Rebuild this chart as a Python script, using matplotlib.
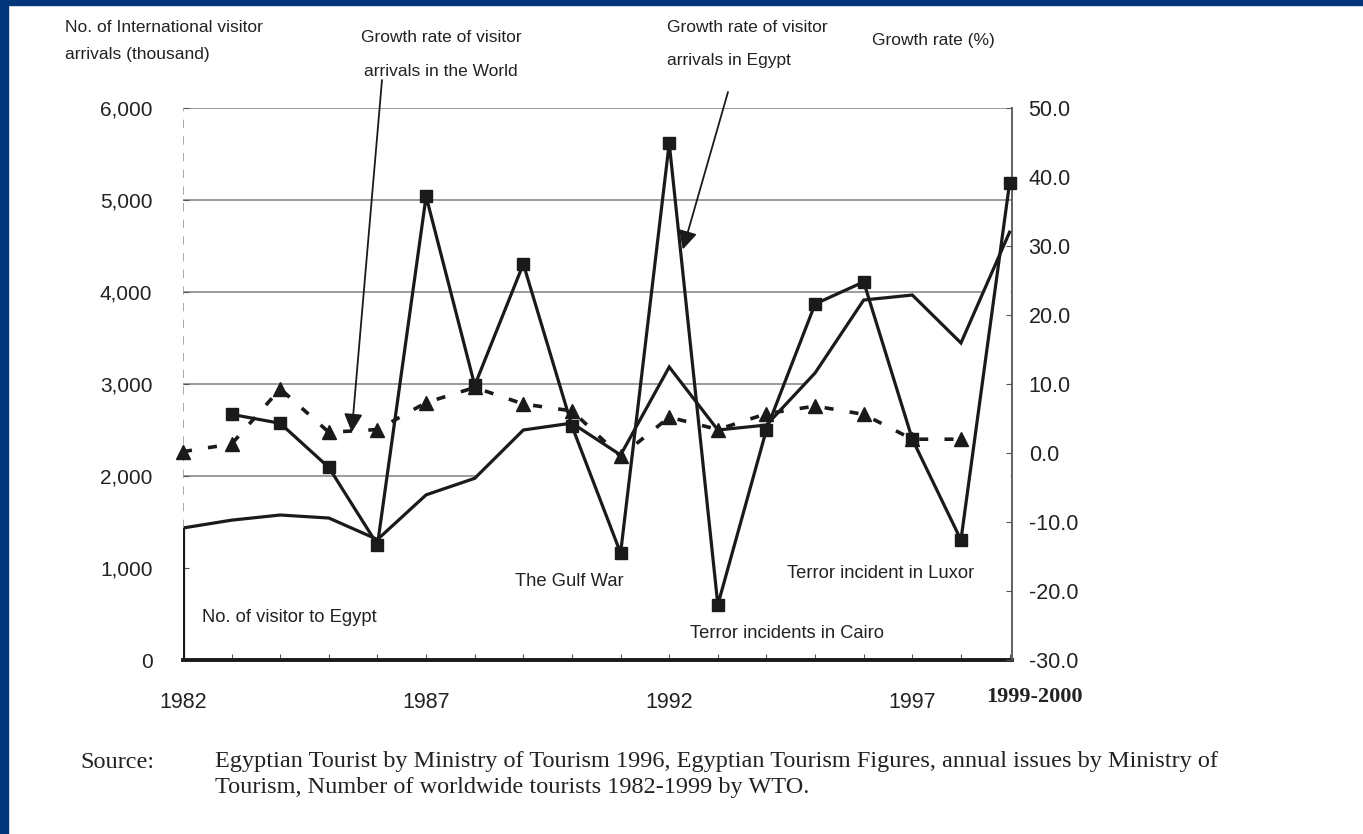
import matplotlib
matplotlib.use("Agg")
import matplotlib.pyplot as plt
from matplotlib.patches import Rectangle

plt.rcParams['font.family'] = ['Liberation Sans', 'DejaVu Sans']
plt.rcParams['axes.unicode_minus'] = False

# data
years = list(range(1982, 2000))
visitors = [1435, 1520, 1576, 1543, 1310, 1795, 1975, 2500, 2575, 2228,
            3185, 2500, 2554, 3120, 3913, 3967, 3446, 4650]  # thousand
egypt_years = list(range(1983, 2000))
egypt_growth = [5.6, 4.3, -2.1, -13.3, 37.2, 9.8, 27.4, 3.9, -14.5, 44.9,
                -22.0, 3.4, 21.6, 24.8, 2.0, -12.6, 39.1]
world_years = list(range(1982, 1999))
world_growth = [0.2, 1.3, 9.3, 3.0, 3.4, 7.3, 9.5, 7.1, 6.1, -0.5, 5.2,
                3.4, 5.7, 6.8, 5.6, 2.0, 2.0]
left_ticks = [0, 1000, 2000, 3000, 4000, 5000, 6000]
grid_levels = [2000, 3000, 4000, 5000, 6000]
right_ticks = [-30, -20, -10, 0, 10, 20, 30, 40, 50]
year_labels = {1982: "1982", 1987: "1987", 1992: "1992", 1997: "1997"}

W, H = 1363, 834
fig = plt.figure(figsize=(W / 100, H / 100), dpi=100)
fig.patch.set_facecolor("white")

# navy frame (top and left)
navy = "#03357a"
fig.patches.append(Rectangle((0, 1 - 5 / H), 1, 5 / H, transform=fig.transFigure,
                             color=navy, zorder=10))
fig.patches.append(Rectangle((0, 0), 8 / W, 1, transform=fig.transFigure,
                             color=navy, zorder=10))

def fx(px):
    return px / W

def fy(py):
    return 1 - py / H

left, right, top, bottom = 183, 1012, 108, 660
ax = fig.add_axes([fx(left), fy(bottom), fx(right) - fx(left), fy(top) - fy(bottom)])
ax2 = ax.twinx()

ax.set_xlim(1982, 1999.05)
ax.set_ylim(0, 6000)
ax2.set_ylim(-30, 50)

ink = "#1a1a1a"

# grid behind the visitor area
for g in grid_levels:
    ax.axhline(g, color="#8a8a8a", lw=1.2, zorder=0.5)
ax.fill_between(years, visitors, 0, color="white", zorder=1)
ax.plot(years, visitors, color=ink, lw=2.3, zorder=2, solid_joinstyle="miter")
ax.vlines(years[0], 0, visitors[0], color=ink, lw=2.3, zorder=2)
ax.vlines(years[0], visitors[0], 6000, color="#9a9a9a", lw=1.2,
          linestyles=(0, (5, 5)), zorder=2)

# growth rates
ax2.plot(world_years, world_growth, color=ink, lw=2.6, ls=(0, (2.5, 4.5)),
         marker="^", markersize=10, zorder=3, clip_on=False)
ax2.plot(egypt_years, egypt_growth, color=ink, lw=2.3, marker="s",
         markersize=8, zorder=4, clip_on=False)

for s in ["top", "left", "right"]:
    ax.spines[s].set_visible(False)
for s in ["top", "left"]:
    ax2.spines[s].set_visible(False)
ax2.spines["bottom"].set_visible(False)
ax2.spines["right"].set_color("#555555")
ax2.spines["right"].set_linewidth(1.3)
ax.spines["bottom"].set_linewidth(2.8)
ax.spines["bottom"].set_color(ink)

ax.set_xticks(years)
ax.set_xticklabels([year_labels.get(y, "") for y in years])
ax.set_yticks(left_ticks)
ax.set_yticklabels([f"{v:,}" for v in left_ticks])
ax2.set_yticks(right_ticks)
ax2.set_yticklabels([f"{v:.1f}" for v in right_ticks])

ax.tick_params(axis="x", direction="in", length=4, color="#555555",
               labelsize=15.5, pad=23, labelcolor="#222222")
ax.tick_params(axis="y", direction="in", length=4, color="#555555",
               labelsize=15, pad=22, labelcolor="#222222")
ax2.tick_params(axis="y", direction="in", length=4, color="#555555",
                labelsize=15.5, pad=12, labelcolor="#222222")

fig.text(fx(1035), fy(697), "1999-2000", family="Liberation Serif",
         weight="bold", fontsize=16, ha="center", va="center", color="#222222")

# header texts
tk = dict(fontsize=12.5, color="#222222", va="center")
fig.text(fx(65), fy(27), "No. of International visitor", ha="left", **tk)
fig.text(fx(65), fy(55), "arrivals (thousand)", ha="left", **tk)
fig.text(fx(441), fy(38), "Growth rate of visitor", ha="center", **tk)
fig.text(fx(441), fy(72), "arrivals in the World", ha="center", **tk)
fig.text(fx(667), fy(27), "Growth rate of visitor", ha="left", **tk)
fig.text(fx(667), fy(60), "arrivals in Egypt", ha="left", **tk)
fig.text(fx(872), fy(41), "Growth rate (%)", ha="left", **tk)

# labels inside the plot
tl = dict(fontsize=13.2, color="#222222", va="center", ha="left")
fig.text(fx(515), fy(582), "The Gulf War", **tl)
fig.text(fx(202), fy(618), "No. of visitor to Egypt", **tl)
fig.text(fx(787), fy(573), "Terror incident in Luxor", **tl)
fig.text(fx(690), fy(634), "Terror incidents in Cairo", **tl)

# arrows from the header labels
arr = dict(arrowstyle="-|>", mutation_scale=28, lw=1.3, color=ink,
           shrinkA=0, shrinkB=0)
ax2.annotate("", xy=(1985.47, 3.0), xytext=(382, H - 80),
             textcoords="figure pixels", arrowprops=arr, zorder=5)
ax2.annotate("", xy=(1992.28, 29.5), xytext=(728, H - 92),
             textcoords="figure pixels", arrowprops=arr, zorder=5)

# source note
ts = dict(family="Liberation Serif", fontsize=17.5, color="#222222",
          va="center", ha="left")
fig.text(fx(80), fy(762), "Source:", **ts)
fig.text(fx(215), fy(762),
         "Egyptian Tourist by Ministry of Tourism 1996, Egyptian Tourism Figures, "
         "annual issues by Ministry of", **ts)
fig.text(fx(215), fy(788),
         "Tourism, Number of worldwide tourists 1982-1999 by WTO.", **ts)

fig.savefig("out.png", dpi=100)
